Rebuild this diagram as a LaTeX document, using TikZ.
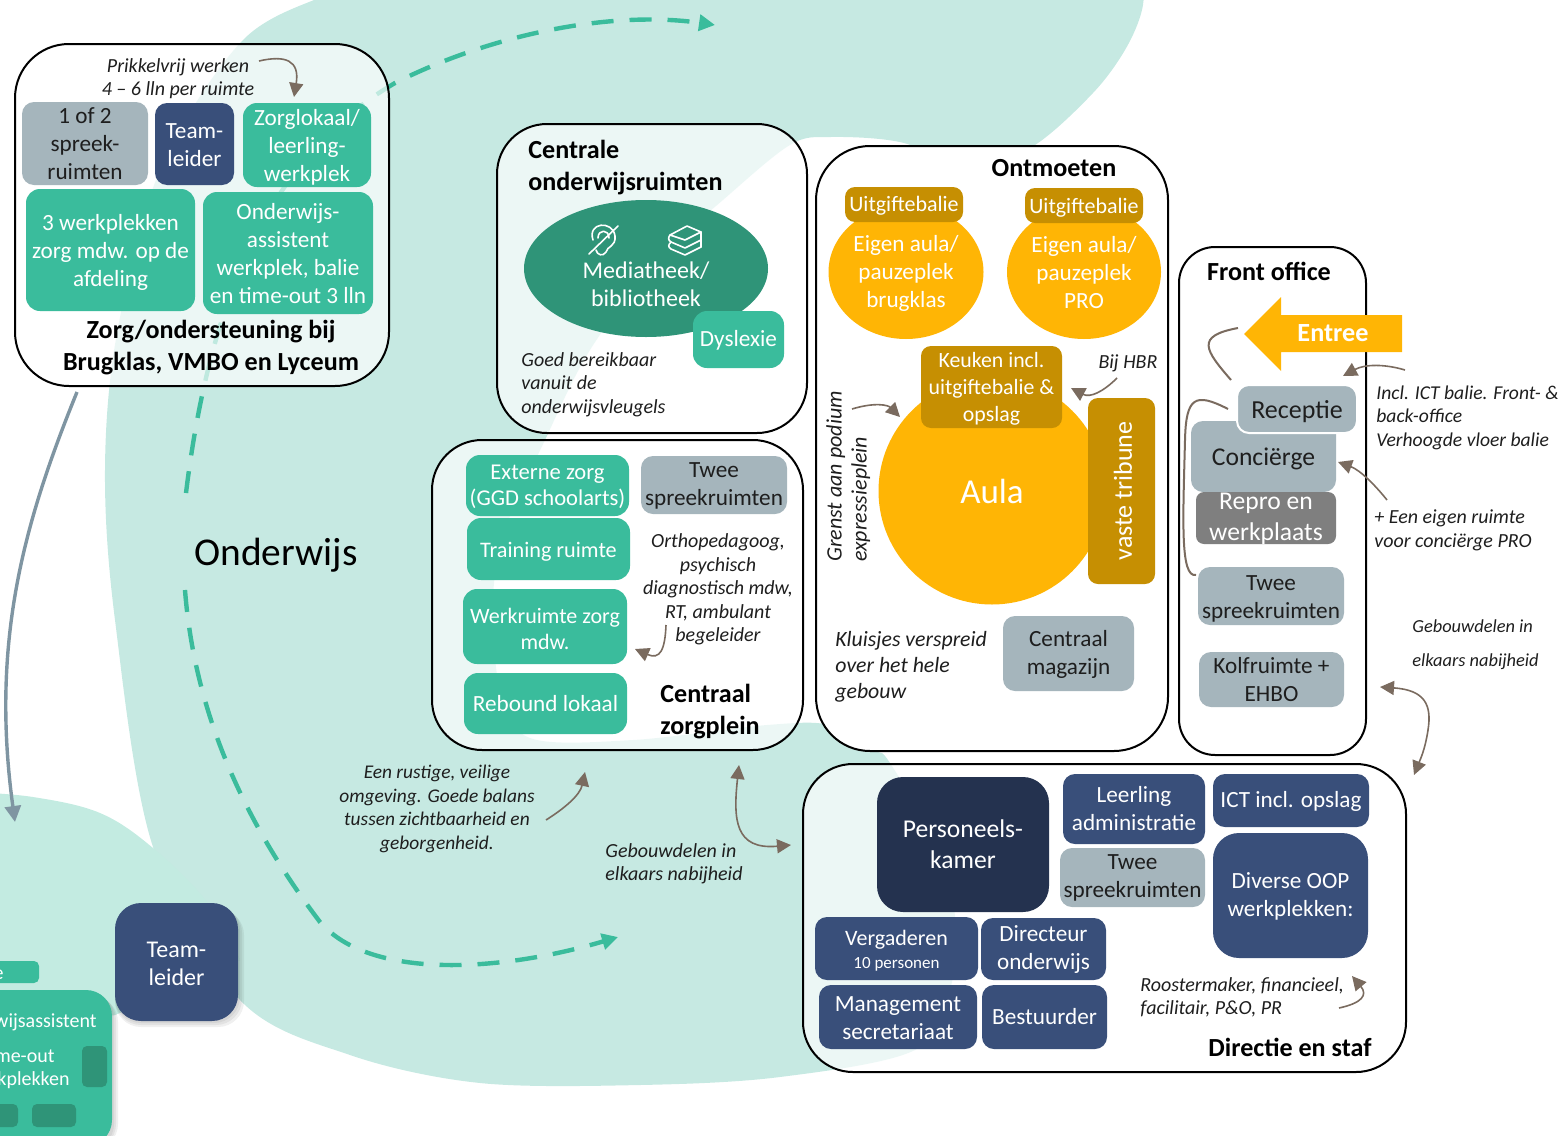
\documentclass[tikz,border=0pt]{standalone}
\usepackage{fontspec}
\setmainfont{Carlito}
\usetikzlibrary{arrows.meta,shapes.geometric}
\definecolor{blobc}{HTML}{C6E9E2}
\definecolor{lobec}{HTML}{C3EBE1}
\definecolor{mintc}{HTML}{3ABC9C}
\definecolor{deepc}{HTML}{2F9478}
\definecolor{navyc}{HTML}{394F7A}
\definecolor{inkc}{HTML}{24324F}
\definecolor{greyc}{HTML}{A5B5BC}
\definecolor{darkg}{HTML}{7F7F7F}
\definecolor{goldc}{HTML}{FFB505}
\definecolor{ochrec}{HTML}{C68F02}
\definecolor{brownc}{HTML}{7A6B5F}
\definecolor{steelc}{HTML}{7F95A2}
\definecolor{txtc}{HTML}{1E1E1E}
\tikzset{
 x=0.5pt,y=-0.5pt,
 rbase/.style={rectangle,inner sep=0pt,outer sep=0pt,draw=none},
 mint/.style={rbase,fill=mintc,rounded corners=7pt},
 mintbig/.style={rbase,fill=mintc,rounded corners=13pt},
 mintsmall/.style={rbase,fill=mintc,rounded corners=2.5pt},
 navy/.style={rbase,fill=navyc,rounded corners=6pt},
 navyb/.style={rbase,fill=navyc,rounded corners=13pt},
 ink/.style={rbase,fill=inkc,rounded corners=13pt},
 grey/.style={rbase,fill=greyc,rounded corners=6pt},
 dgrey/.style={rbase,fill=darkg,rounded corners=4pt},
 ochre/.style={rbase,fill=ochrec,rounded corners=5pt},
 btxt/.style={align=center,inner sep=0pt,yshift=-1pt,font=\fontsize{11.6}{14}\selectfont},
 mint text/.style={btxt,text=white},
 mintsmall text/.style={btxt,text=white},
 navy text/.style={btxt,text=white},
 navyb text/.style={btxt,text=white},
 ink text/.style={btxt,text=white},
 dgrey text/.style={btxt,text=white},
 ochre text/.style={btxt,text=white},
 grey text/.style={btxt,text=txtc},
 room/.style={rectangle,inner sep=0pt,draw=black,line width=1pt,fill=white},
 title/.style={inner sep=0pt,yshift=-1pt,font=\fontsize{13.05}{16}\selectfont\bfseries,text=black,align=center},
 note/.style={inner sep=0pt,yshift=-1pt,font=\fontsize{10}{11.7}\selectfont\itshape,text=txtc,align=center},
 notel/.style={note,align=left,anchor=west},
 oval/.style={ellipse,fill=goldc,inner sep=0pt},
 ann/.style={draw=brownc,line width=.8pt,-{Triangle[length=7pt,width=7pt]}},
 annb/.style={draw=brownc,line width=.8pt,{Triangle[length=7pt,width=7pt]}-{Triangle[length=7pt,width=7pt]}},
 annp/.style={draw=brownc,line width=1pt},
 dashline/.style={draw=mintc,line width=2.2pt,dash pattern=on 11pt off 8pt,-{Triangle[length=8pt,width=8pt]}},
}
% #1 extra text options, #2 name, #3..#6 corners, #7 style, #8 text centre y, #9 text
\newcommand\rb[9][]{%
 \pgfmathsetmacro\rbw{(#5-#3)*0.5}\pgfmathsetmacro\rbh{(#6-#4)*0.5}%
 \pgfmathsetmacro\rbx{(#3+#5)/2}\pgfmathsetmacro\rby{(#4+#6)/2}%
 \node[#7,minimum width=\rbw pt,minimum height=\rbh pt] (#2) at (\rbx,\rby) {};
 \node[#7 text,#1] (#2-t) at (\rbx,#8) {#9};
}
\newcommand\room[6]{%
 \pgfmathsetmacro\rbw{(#4-#2)*0.5}\pgfmathsetmacro\rbh{(#5-#3)*0.5}%
 \pgfmathsetmacro\rbx{(#2+#4)/2}\pgfmathsetmacro\rby{(#3+#5)/2}%
 \node[room,minimum width=\rbw pt,minimum height=\rbh pt,#6] (#1) at (\rbx,\rby) {};
}
\begin{document}
\begin{tikzpicture}
\useasboundingbox (0,0) rectangle (1568,1135);
\clip (0,0) rectangle (1568,1135);
% background blob
\fill[blobc] plot[smooth cycle,tension=.55] coordinates {
 (1145,-100)(1144,-30)(1142,10)(1125,50)(1093,93)(1035,145)(970,172)(904,143)(831,137)(790,145)
 (723,200)(657,260)(590,350)(545,440)(505,530)(493,600)(500,690)(530,738)(633,740)(767,725)(830,725)
 (874,750)(890,763)(940,850)(955,917)(950,990)(915,1050)(780,1077)(640,1085)(480,1083)(350,1055)(240,1000)
 (153,847)(115,620)(105,470)(117,333)(160,170)(243,40)(337,-10)(420,-50)(500,-100)};
% lower left lobe
\foreach \o in {5,3,1}{\fill[black,opacity=.03] plot[smooth,tension=.6] coordinates {(-30,794)(33,797+\o)(100,813+\o)(153,848+\o)(207,902+\o)(240,960)} -- (115,1015) -- (-30,1040) -- cycle;}
\fill[lobec] plot[smooth,tension=.6] coordinates {(-30,792)(33,797)(100,813)(153,848)(207,902)(240,960)} -- (115,1015) -- (-30,1040) -- cycle;
% dashed routes
\coordinate (dA) at (186,493); \coordinate (dB) at (395,83); \coordinate (dC) at (715,25);
\coordinate (dD) at (185,590); \coordinate (dE) at (320,922); \coordinate (dF) at (618,937);
\draw[dashline] (dA) .. controls (212,280) and (280,150) .. (dB) .. controls (490,35) and (610,10) .. (dC);
\draw[dashline] (dD) .. controls (195,720) and (250,830) .. (dE) .. controls (370,980) and (500,972) .. (dF);
% grey route
\coordinate (gA) at (77,392); \coordinate (gB) at (15,822);
\draw[draw=steelc,line width=1.7pt,-{Triangle[length=8pt,width=8pt]}] (gA) .. controls (25,520) and (-10,640) .. (gB);
\node[inner sep=0pt,font=\fontsize{19.7}{22}\selectfont,text=black] (onderwijs) at (276,555) {Onderwijs};
% lower-left fragment
\foreach \o in {6,4,2}{\fill[black,opacity=.06,rounded corners=13pt] (-40,990+\o) rectangle (112+\o,1150);}
\node[mintsmall,minimum width=40pt,minimum height=11pt] (balie) at (-1,972) {};
\node[mint text,yshift=1pt,anchor=east,font=\fontsize{10}{12}\selectfont] (balie-t) at (4,973) {Balie};
\node[mintbig,minimum width=76pt,minimum height=78pt] (oa) at (36,1068) {};
\node[mint text,yshift=.5pt,anchor=east,font=\fontsize{10}{12}\selectfont] (oa1) at (97,1021) {Onderwijsassistent};
\node[mint text,yshift=1pt,anchor=east,font=\fontsize{10}{12}\selectfont] (oa2) at (55,1056) {time-out};
\node[mint text,yshift=1pt,anchor=east,font=\fontsize{10}{12}\selectfont] (oa3) at (70,1080) {werkplekken};
\fill[deepc,rounded corners=2.5pt] (82,1046) rectangle (107,1087);
\fill[deepc,rounded corners=2.5pt] (-20,1104) rectangle (18,1127);
\fill[deepc,rounded corners=2.5pt] (32,1104) rectangle (76,1127);
\foreach \o in {6,4,2}{\fill[black,opacity=.06,rounded corners=13pt] (115,903+\o) rectangle (238+\o,1021+\o);}
\rb[font=\fontsize{12}{14}\selectfont]{tl2}{115}{903}{238}{1021}{navyb}{962}{Team-\\leider}
% rooms
\room{zorg}{15}{44}{389}{386}{rounded corners=27pt,fill opacity=.68}
\room{centrale}{497}{124}{807}{433}{rounded corners=25pt,fill opacity=.68}
\room{zplein}{432}{440}{803}{750}{rounded corners=25pt,fill opacity=.68}
\room{ontm}{816}{146}{1168}{751}{rounded corners=27pt}
\room{front}{1179}{247}{1366}{755}{rounded corners=18pt}
\room{dir}{803}{764}{1406}{1072}{rounded corners=25pt,fill opacity=.68}
% zorg
\node[note] (n1) at (178,76.5) {Prikkelvrij werken\\4 -- 6 lln per ruimte};
\coordinate (a1s) at (259,61); \coordinate (a1e) at (294,97);
\draw[ann] (a1s) .. controls (285,55) and (300,60) .. (a1e);
\rb{z1}{22}{102}{148}{185}{grey}{142}{1 of 2\\spreek-\\ruimten}
\rb{z2}{155}{103}{234}{185}{navy}{143}{Team-\\leider}
\rb{z3}{243}{103}{371}{187}{mint}{145.5}{Zorglokaal/\\leerling-\\werkplek}
\rb{z4}{26}{189}{195}{311}{mint}{250}{3 werkplekken\\zorg mdw. op de\\afdeling}
\rb{z5}{203}{192}{373}{314}{mint}{252}{Onderwijs-\\assistent\\werkplek, balie\\en time-out 3 lln}
\node[title] (zt) at (211,346) {Zorg/ondersteuning bij\\Brugklas, VMBO en Lyceum};
% centrale
\node[title,align=left,anchor=west] (ct) at (528,166) {Centrale\\onderwijsruimten};
\node[ellipse,fill=deepc,inner sep=0pt,minimum width=122pt,minimum height=68.5pt] (media) at (646,268.5) {};
\node[btxt,text=white,font=\fontsize{12}{14}\selectfont] (mediat) at (646,282) {Mediatheek/\\bibliotheek};
\begin{scope}[draw=white,line width=.8pt,line cap=round,line join=round]
\draw (589,254) -- (618,226);
\draw (593,240) .. controls (587,222) and (613,220) .. (615,236) .. controls (616,247) and (607,246) .. (606,252) .. controls (603,257) and (597,255) .. (596,250);
\draw (598,238) .. controls (598,229) and (609,229) .. (609,238);
\draw (670,235) -- (687,226) -- (701,232) -- (685,240) -- cycle;
\draw (670,235) .. controls (668,238) and (668,240) .. (671,242) -- (685,248) -- (701,240);
\draw (671,242) .. controls (668,245) and (668,247) .. (671,249) -- (685,255) -- (701,247);
\draw (701,232) -- (701,247);
\end{scope}
\rb{dys}{693}{311}{784}{368}{mint}{338}{Dyslexie}
\node[notel] (cn) at (521,382.5) {Goed bereikbaar\\vanuit de\\onderwijsvleugels};
% zorgplein
\rb[font=\fontsize{11.3}{13}\selectfont]{p1}{466}{455}{629}{516}{mint}{485}{Externe zorg\\(GGD schoolarts)}
\rb[font=\fontsize{11.1}{14}\selectfont]{p2}{467}{518}{630}{580}{mint}{550}{Training ruimte}
\rb[font=\fontsize{11}{13}\selectfont]{p3}{463}{589}{627}{664}{mint}{627}{Werkruimte zorg\\mdw.}
\rb{p4}{464}{673}{627}{734}{mint}{702}{Rebound lokaal}
\rb{p5}{641}{456}{787}{514}{grey}{484}{Twee\\spreekruimten}
\node[note] (pn) at (718,587.5) {Orthopedagoog,\\psychisch\\diagnostisch mdw,\\RT, ambulant\\begeleider};
\coordinate (a2s) at (666,625); \coordinate (a2e) at (635,649);
\draw[ann] (a2s) .. controls (665,650) and (660,660) .. (a2e);
\node[title,align=left,anchor=west] (pt) at (660,710) {Centraal\\zorgplein};
% ontmoeten
\node[title] (ot) at (1054,166) {Ontmoeten};
\node[oval,minimum width=77.5pt,minimum height=67pt] (e1) at (906,272) {};
\node[oval,minimum width=77pt,minimum height=67pt] (e2) at (1084,272) {};
\rb[font=\fontsize{11}{14}\selectfont]{u1}{845}{187}{963}{222}{ochre}{204}{Uitgiftebalie}
\rb[font=\fontsize{11}{14}\selectfont]{u2}{1025}{188}{1143}{223}{ochre}{205.5}{Uitgiftebalie}
\node[btxt,text=white] (e1t) at (906,271.5) {Eigen aula/\\pauzeplek\\brugklas};
\node[btxt,text=white] (e2t) at (1084,271) {Eigen aula/\\pauzeplek\\PRO};
\node[circle,fill=goldc,inner sep=0pt,minimum size=113.5pt] (aula) at (992,491) {};
\node[btxt,text=white,font=\fontsize{17.5}{20}\selectfont] (aulat) at (992,489) {Aula};
\rb[font=\fontsize{10.9}{13.4}\selectfont]{keuken}{921}{346}{1062}{428}{ochre}{386.5}{Keuken incl.\\uitgiftebalie \&\\opslag}
\rb{trib0}{1088}{398}{1155}{584}{ochre}{491}{}
\node[align=center,inner sep=0pt,text=white,rotate=90,font=\fontsize{13}{14}\selectfont] (tribt) at (1123,491) {vaste tribune};
\node[inner sep=0pt,font=\fontsize{11}{12.5}\selectfont\itshape,text=txtc,rotate=90,align=left,anchor=north west] (gn) at (826,562) {Grenst aan podium\\expressieplein};
\coordinate (a3s) at (852,409); \coordinate (a3e) at (900,417);
\draw[ann] (a3s) .. controls (875,402) and (888,405) .. (a3e);
\node[note] (hbr) at (1128,361) {Bij HBR};
\coordinate (a4s) at (1117,378); \coordinate (a4e) at (1071,388);
\draw[ann] (a4s) .. controls (1103,392) and (1090,398) .. (a4e);
\node[notel,font=\fontsize{10.9}{13}\selectfont\itshape] (kn) at (835,665) {Kluisjes verspreid\\over het hele\\gebouw};
\rb{mag}{1003}{616}{1134}{691}{grey}{652}{Centraal\\magazijn}
% front office
\node[title] (ft) at (1269,269) {Front office};
\rb[font=\fontsize{12.8}{15.5}\selectfont]{conc}{1191}{421}{1336}{492}{grey}{457}{Conciërge}
\rb[font=\fontsize{12.8}{15.5}\selectfont]{repro}{1196}{492}{1336}{544}{dgrey}{517}{Repro en\\werkplaats}
\node[rbase,fill=greyc,draw=white,line width=1pt,rounded corners=6pt,minimum width=60pt,minimum height=24pt] (rec) at (1297,409) {};
\node[grey text,font=\fontsize{13}{15}\selectfont] (rect) at (1297,410) {Receptie};
\rb{f2}{1198}{567}{1344}{625}{grey}{597}{Twee\\spreekruimten}
\rb{kolf}{1199}{652}{1344}{707}{grey}{678}{Kolfruimte +\\EHBO}
\fill[goldc] (1244,334) -- (1281,297) -- (1281,315) -- (1402,315) -- (1402,352) -- (1281,352) -- (1281,371) -- cycle;
\node[inner sep=0pt,text=white,font=\fontsize{13.1}{15}\selectfont\bfseries] (entree) at (1333,333) {Entree};
\coordinate (c1a) at (1238,328); \coordinate (c1b) at (1231,380);
\draw[annp] (c1a) .. controls (1195,336) and (1205,350) .. (c1b);
\coordinate (c2a) at (1228,409); \coordinate (c2b) at (1196,575);
\draw[annp] (c2a) .. controls (1195,392) and (1186,397) .. (1185,440) .. controls (1183,520) and (1180,578) .. (c2b);
\coordinate (a5s) at (1405,370); \coordinate (a5e) at (1343,376);
\draw[ann] (a5s) .. controls (1385,364) and (1365,364) .. (a5e);
\coordinate (a6s) at (1387,500); \coordinate (a6e) at (1338,462);
\draw[ann] (a6s) .. controls (1375,485) and (1360,470) .. (a6e);
\node[notel,font=\fontsize{9.8}{11.7}\selectfont\itshape] (in) at (1376,415.5) {Incl. ICT balie. Front- \&\\back-office\\Verhoogde vloer balie};
\node[notel] (een) at (1374,528.5) {+ Een eigen ruimte\\voor conciërge PRO};
\node[note,font=\fontsize{9.2}{17}\selectfont\itshape,align=left,anchor=west] (g1) at (1412,643) {Gebouwdelen in\\elkaars nabijheid};
\coordinate (a7s) at (1380,687); \coordinate (a7e) at (1414,775);
\draw[annb] (a7s) .. controls (1425,690) and (1432,705) .. (1428,730) .. controls (1425,750) and (1420,760) .. (a7e);
% lower notes
\node[note,font=\fontsize{9.7}{11.7}\selectfont\itshape] (rust) at (437,807) {Een rustige, veilige\\omgeving. Goede balans\\tussen zichtbaarheid en\\geborgenheid.};
\coordinate (a8s) at (546,820); \coordinate (a8e) at (585,772);
\draw[ann] (a8s) .. controls (565,808) and (580,795) .. (a8e);
\node[note,font=\fontsize{10}{11.7}\selectfont\itshape,align=left,anchor=west] (g2) at (605,861.5) {Gebouwdelen in\\elkaars nabijheid};
\coordinate (a9s) at (739,765); \coordinate (a9e) at (791,845);
\draw[annb] (a9s) .. controls (733,820) and (735,850) .. (a9e);
% directie
\rb[font=\fontsize{12.8}{15.5}\selectfont]{pk}{877}{777}{1049}{912}{ink}{842.5}{Personeels-\\kamer}
\rb{d1}{1063}{774}{1205}{844}{navy}{807}{Leerling\\administratie}
\rb{d2}{1213}{774}{1369}{827}{navy}{799.5}{ICT incl. opslag}
\rb{d3}{1060}{848}{1205}{907}{grey}{876}{Twee\\spreekruimten}
\rb[]{d4}{1213}{833}{1368}{958}{navyb}{894}{Diverse OOP\\werkplekken:}
\rb[font=\fontsize{11}{14}\selectfont]{d5}{815}{917}{978}{980}{navy}{949}{Vergaderen\\[-2.5pt]{\fontsize{8.5}{10}\selectfont 10 personen}}
\rb{d6}{981}{918}{1106}{980}{navy}{947}{Directeur\\onderwijs}
\rb{d7}{819}{985}{977}{1049}{navy}{1016}{Management\\secretariaat}
\rb{d8}{982}{985}{1107}{1049}{navy}{1015}{Bestuurder}
\node[notel] (rn) at (1140,995.5) {Roostermaker, financieel,\\facilitair, P\&O, PR};
\coordinate (a10s) at (1339,1008); \coordinate (a10e) at (1352,976);
\draw[ann] (a10s) .. controls (1362,1003) and (1368,995) .. (a10e);
\node[title] (dt) at (1290,1045) {Directie en staf};
\end{tikzpicture}
\end{document}
